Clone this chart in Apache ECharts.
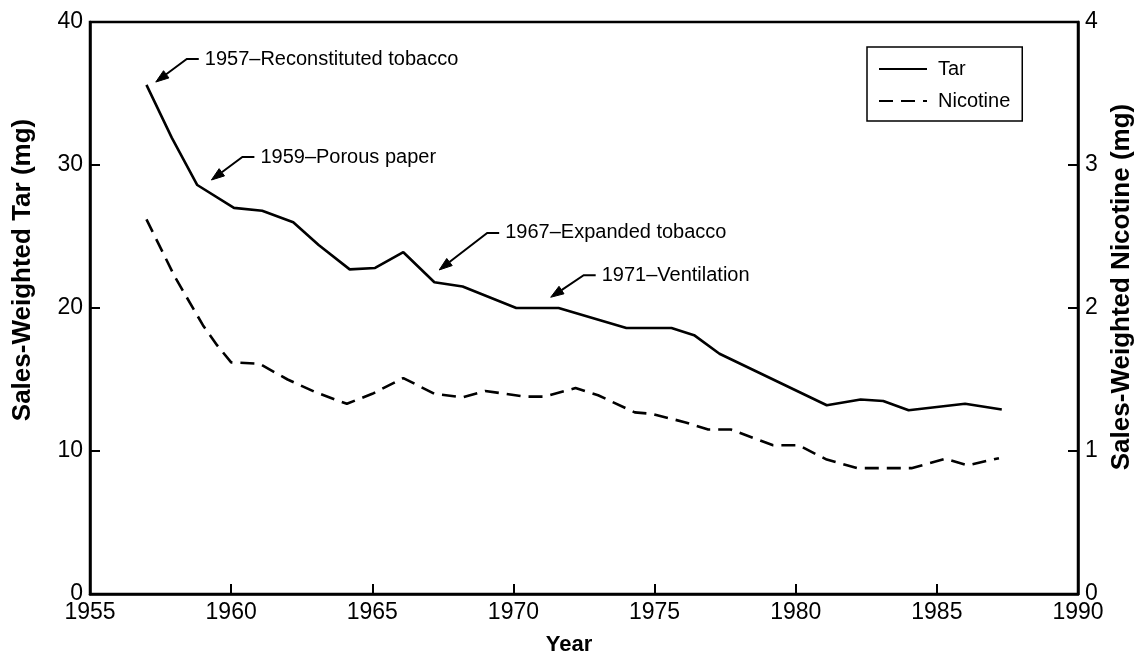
<!DOCTYPE html>
<html>
<head>
<meta charset="utf-8">
<script src="https://cdn.jsdelivr.net/npm/echarts@6/dist/echarts.min.js"></script>
<style>
html,body{margin:0;padding:0;background:#fff;overflow:hidden;width:1134px;height:661px;}
#chart{width:1134px;height:661px;}
</style>
</head>
<body>
<div id="chart"></div>
<script>
// ---- data ----
const tarYears  = [1957.0, 1957.9, 1958.8, 1960.1, 1961.1, 1962.2, 1963.1, 1964.2, 1965.1, 1966.1, 1967.2, 1968.2, 1970.1, 1971.6, 1974.0, 1975.6, 1976.4, 1977.3, 1981.1, 1982.3, 1983.1, 1984.0, 1986.0, 1987.3];
const tarValues = [35.6, 31.9, 28.6, 27.0, 26.8, 26.0, 24.4, 22.7, 22.8, 23.9, 21.8, 21.5, 20.0, 20.0, 18.6, 18.6, 18.1, 16.8, 13.2, 13.6, 13.5, 12.85, 13.3, 12.9];

const nicYears  = [1957.0, 1958.0, 1959.0, 1959.5, 1960.0, 1961.0, 1962.0, 1963.0, 1964.1, 1965.0, 1966.1, 1967.2, 1968.2, 1969.0, 1970.4, 1971.1, 1972.2, 1973.0, 1974.3, 1974.9, 1976.1, 1976.9, 1977.7, 1979.2, 1980.1, 1981.1, 1982.2, 1984.1, 1985.3, 1986.1, 1987.2];
const nicValues = [2.62, 2.22, 1.88, 1.74, 1.62, 1.61, 1.50, 1.41, 1.33, 1.40, 1.51, 1.40, 1.375, 1.42, 1.38, 1.38, 1.44, 1.39, 1.27, 1.26, 1.20, 1.15, 1.15, 1.04, 1.04, 0.94, 0.88, 0.88, 0.945, 0.90, 0.95];

const seriesNames = ['Tar', 'Nicotine'];
const xAxisTitle = 'Year';
const leftAxisTitle = 'Sales-Weighted Tar (mg)';
const rightAxisTitle = 'Sales-Weighted Nicotine (mg)';

// annotations: label text and the (year, tar) point the arrow tip touches
const annoTexts  = ['1957\u2013Reconstituted tobacco', '1959\u2013Porous paper', '1967\u2013Expanded tobacco', '1971\u2013Ventilation'];
const annoYears  = [1957.33, 1959.30, 1967.37, 1971.32];
const annoValues = [35.8, 28.95, 22.66, 20.75];

// ---- styling ----
const FONT = '"Liberation Sans", Arial, Helvetica, sans-serif';
const leaderDiag = [[31, -23], [31, -23], [48, -37], [33, -22]];

const chart = echarts.init(document.getElementById('chart'), null, {renderer: 'canvas', width: 1134, height: 661});

const option = {
  animation: false,
  backgroundColor: '#fff',
  textStyle: {fontFamily: FONT, color: '#000'},
  grid: {left: 90, right: 56, top: 22, bottom: 67, containLabel: false, outerBoundsMode: 'none',
         show: true, borderColor: '#000', borderWidth: 2.5, backgroundColor: 'transparent'},
  legend: {
    orient: 'vertical', left: 867, top: 47,
    data: seriesNames,
    itemWidth: 48, itemHeight: 14, itemGap: 12,
    padding: [12, 12, 10, 11],
    borderColor: '#000', borderWidth: 1.5, borderRadius: 0,
    itemStyle: {opacity: 0},
    textStyle: {fontFamily: FONT, fontSize: 20, color: '#000', padding: [0, 0, 0, 6]}
  },
  xAxis: {
    type: 'value', min: 1955, max: 1990, interval: 5,
    name: xAxisTitle, nameLocation: 'middle', nameGap: 40,
    nameTextStyle: {fontFamily: FONT, fontSize: 22, fontWeight: 'bold', color: '#000', padding: [0, 30, 0, 0]},
    axisLine: {show: true, lineStyle: {color: '#000', width: 2.5}},
    axisTick: {show: true, inside: true, length: 10, lineStyle: {color: '#000', width: 2}},
    axisLabel: {fontFamily: FONT, fontSize: 23, color: '#000', margin: 7, formatter: v => String(v)},
    splitLine: {show: false}
  },
  yAxis: [
    {
      type: 'value', min: 0, max: 40, interval: 10, position: 'left',
      name: leftAxisTitle, nameLocation: 'middle', nameGap: 54, nameRotate: 90,
      nameTextStyle: {fontFamily: FONT, fontSize: 26, fontWeight: 'bold', color: '#000', padding: [0, 0, 0, 76]},
      axisLine: {show: true, lineStyle: {color: '#000', width: 2.5}},
      axisTick: {show: true, inside: true, length: 10, lineStyle: {color: '#000', width: 2}},
      axisLabel: {fontFamily: FONT, fontSize: 23, color: '#000', margin: 7},
      splitLine: {show: false}
    },
    {
      type: 'value', min: 0, max: 4, interval: 1, position: 'right',
      name: rightAxisTitle, nameLocation: 'middle', nameGap: 24, nameRotate: 90,
      nameTextStyle: {fontFamily: FONT, fontSize: 26, fontWeight: 'bold', color: '#000', padding: [0, 0, 0, 42]},
      axisLine: {show: true, lineStyle: {color: '#000', width: 2.5}},
      axisTick: {show: true, inside: true, length: 10, lineStyle: {color: '#000', width: 2}},
      axisLabel: {fontFamily: FONT, fontSize: 23, color: '#000', margin: 7},
      splitLine: {show: false}
    }
  ],
  series: [
    {
      name: seriesNames[0], type: 'line', yAxisIndex: 0,
      data: tarYears.map((y, i) => [y, tarValues[i]]),
      symbol: 'none', smooth: false,
      lineStyle: {color: '#000', width: 2.6, type: 'solid'},
      itemStyle: {color: '#000'}
    },
    {
      name: seriesNames[1], type: 'line', yAxisIndex: 1,
      data: nicYears.map((y, i) => [y, nicValues[i]]),
      symbol: 'none', smooth: false,
      lineStyle: {color: '#000', width: 2.6, type: [14, 8]},
      itemStyle: {color: '#000'}
    }
  ]
};
chart.setOption(option);

// annotation arrows built from data coordinates
const graphics = [];
annoTexts.forEach((txt, i) => {
  const tip = chart.convertToPixel({xAxisIndex: 0, yAxisIndex: 0}, [annoYears[i], annoValues[i]]);
  const d = leaderDiag[i];
  const corner = [tip[0] + d[0], tip[1] + d[1]];
  const end = [corner[0] + 12, corner[1]];
  const len = Math.hypot(d[0], d[1]);
  const ux = d[0] / len, uy = d[1] / len;
  const headLen = 13, headW = 4.5;
  const base = [tip[0] + ux * headLen, tip[1] + uy * headLen];
  const px = -uy, py = ux;
  graphics.push({
    type: 'polyline', silent: true,
    shape: {points: [base, corner, end]},
    style: {stroke: '#000', lineWidth: 2, fill: null}
  });
  graphics.push({
    type: 'polygon', silent: true,
    shape: {points: [tip, [base[0] + px * headW, base[1] + py * headW], [base[0] - px * headW, base[1] - py * headW]]},
    style: {fill: '#000', stroke: '#000', lineWidth: 1}
  });
  graphics.push({
    type: 'text', silent: true,
    x: end[0] + 6, y: end[1],
    style: {text: txt, font: '20px ' + FONT, fill: '#000', verticalAlign: 'middle', align: 'left'}
  });
});
chart.setOption({graphic: graphics});
</script>
</body>
</html>
